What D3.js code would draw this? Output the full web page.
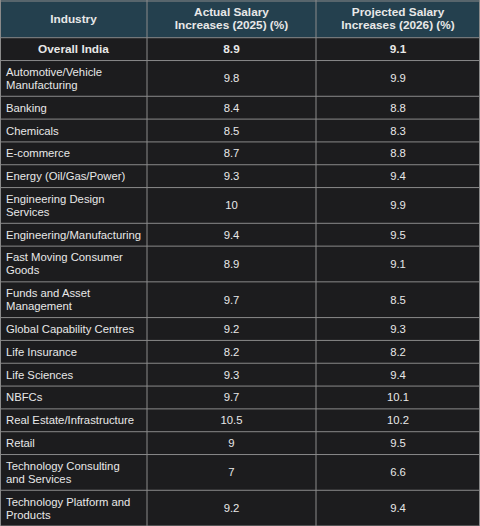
<!DOCTYPE html><html><head><meta charset="utf-8">
<script src="https://cdn.jsdelivr.net/npm/d3@7"></script>
<style>body{margin:0;background:#1c1c1e}</style></head><body><svg id="c" width="480" height="526"></svg>
<script>
const headers=["Industry",["Actual Salary","Increases (2025) (%)"],["Projected Salary","Increases (2026) (%)"]];
const industries=[["Overall India"],["Automotive/Vehicle","Manufacturing"],["Banking"],["Chemicals"],["E-commerce"],["Energy (Oil/Gas/Power)"],["Engineering Design","Services"],["Engineering/Manufacturing"],["Fast Moving Consumer","Goods"],["Funds and Asset","Management"],["Global Capability Centres"],["Life Insurance"],["Life Sciences"],["NBFCs"],["Real Estate/Infrastructure"],["Retail"],["Technology Consulting","and Services"],["Technology Platform and","Products"]];
const actual2025=["8.9","9.8","8.4","8.5","8.7","9.3","10","9.4","8.9","9.7","9.2","8.2","9.3","9.7","10.5","9","7","9.2"];
const projected2026=["9.1","9.9","8.8","8.3","8.8","9.4","9.9","9.5","9.1","8.5","9.3","8.2","9.4","10.1","10.2","9.5","6.6","9.4"];
const svg=d3.select("#c");
const colX=[0,147,316,480];
const headH=38;
const heights=industries.map(r=>r.length>1?36:23);
let ys=[headH];heights.forEach(h=>ys.push(ys[ys.length-1]+h));
const scale=ys[ys.length-1];
const y=d3.scaleLinear().domain([0,scale]).range([0,526]);
svg.append("rect").attr("width",480).attr("height",526).attr("fill","#1c1c1e");
svg.append("rect").attr("width",480).attr("height",y(headH)).attr("fill","#24404e");
const font="Liberation Sans, Arial, sans-serif";
function txt(x,yc,lines,anchor,bold,size){
  size=size||11.3;
  const t=svg.append("text").attr("font-family",font).attr("font-size",size).attr("fill","#e8e8e8")
   .attr("text-anchor",anchor).attr("font-weight",bold?"bold":"normal");
  const n=lines.length;
  lines.forEach((l,i)=>t.append("tspan").attr("x",x).attr("y",yc+(i-(n-1)/2)*13+4).text(l));
}
const hc=y(headH)/2;
txt((colX[0]+colX[1])/2,hc,["Industry"],"middle",true,11.8);
txt((colX[1]+colX[2])/2,hc,headers[1],"middle",true,11.8);
txt((colX[2]+colX[3])/2,hc,headers[2],"middle",true,11.8);
industries.forEach((r,i)=>{
  const yc=(y(ys[i])+y(ys[i+1]))/2;
  const bold=i===0;
  if(bold) txt((colX[0]+colX[1])/2,yc,r,"middle",true,11.8); else txt(6,yc,r,"start",false);
  txt((colX[1]+colX[2])/2,yc,[actual2025[i]],"middle",bold,bold?11.8:11.3);
  txt((colX[2]+colX[3])/2,yc,[projected2026[i]],"middle",bold,bold?11.8:11.3);
});
ys.forEach(v=>svg.append("line").attr("x1",0).attr("x2",480).attr("y1",y(v)).attr("y2",y(v)).attr("stroke","#8a8a8a").attr("stroke-width",1));
svg.append("line").attr("x1",0).attr("x2",480).attr("y1",1).attr("y2",1).attr("stroke","#8a8a8a");
colX.forEach(v=>svg.append("line").attr("x1",Math.min(Math.max(v,0.5),479.5)).attr("x2",Math.min(Math.max(v,0.5),479.5)).attr("y1",0).attr("y2",526).attr("stroke","#8a8a8a"));
</script></body></html>
